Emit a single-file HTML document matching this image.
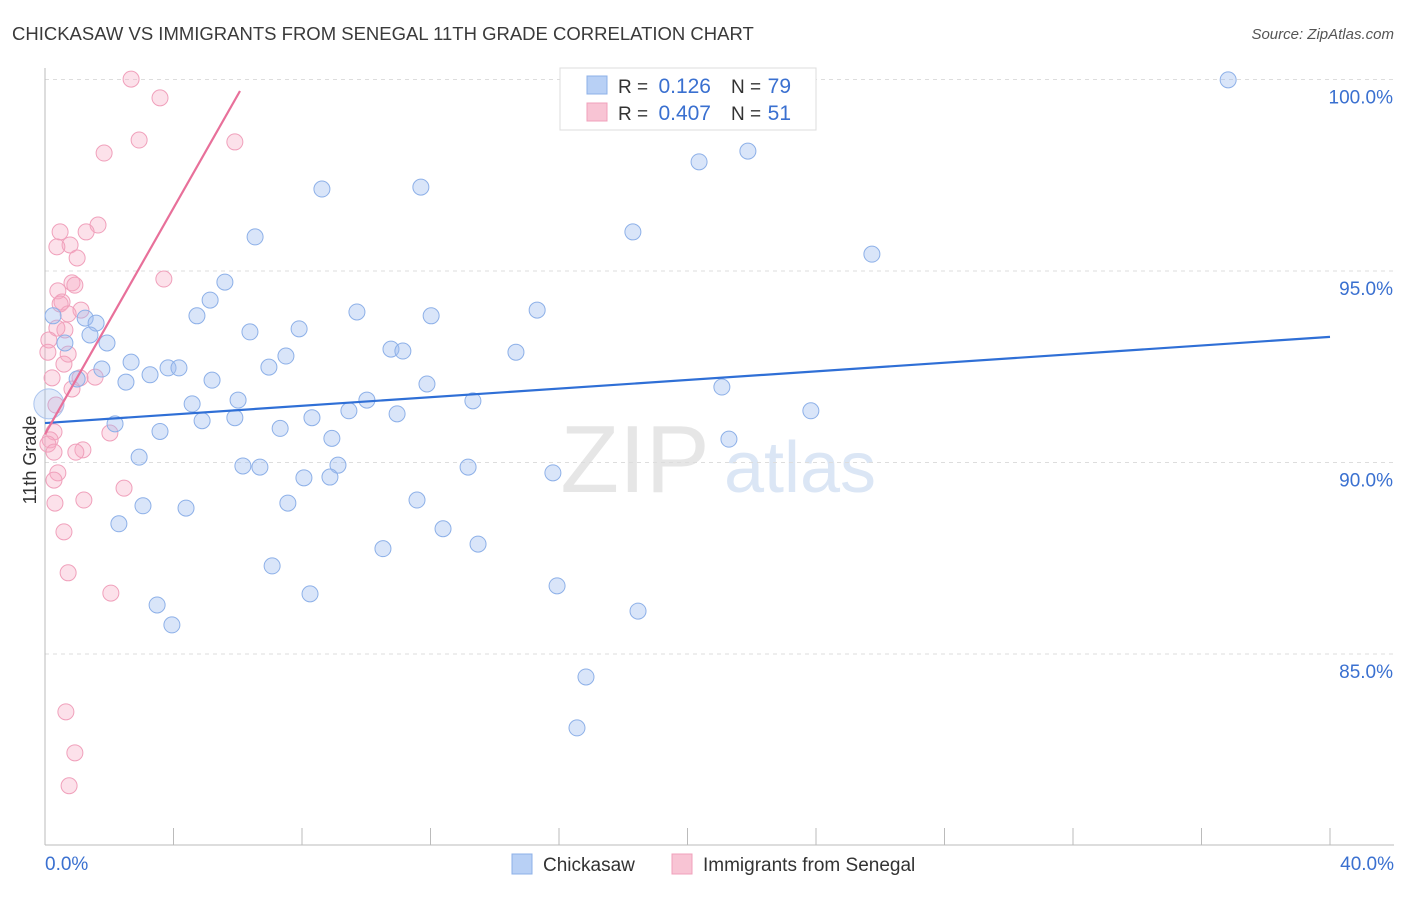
<!DOCTYPE html>
<html><head><meta charset="utf-8"><style>
body{margin:0;background:#fff;font-family:"Liberation Sans",sans-serif;}
svg text{font-family:"Liberation Sans",sans-serif;}
</style></head><body>
<svg id="chart" width="1406" height="892" xmlns="http://www.w3.org/2000/svg">
<text x="12" y="40" font-size="18.5" fill="#3a3a3a">CHICKASAW VS IMMIGRANTS FROM SENEGAL 11TH GRADE CORRELATION CHART</text>
<text x="1394" y="39" font-size="15" fill="#555" text-anchor="end" font-style="italic">Source: ZipAtlas.com</text>
<text x="36" y="460" font-size="18" fill="#333" transform="rotate(-90 36 460)" text-anchor="middle">11th Grade</text>
<g><text x="635" y="492" font-size="96" fill="#e6e6e6" text-anchor="middle" font-family="Liberation Serif">ZIP</text><text x="800" y="492" font-size="72" fill="#dbe6f5" text-anchor="middle">atlas</text></g>
<g id="grid"></g><g id="axes"></g><g id="pts"></g><g id="lines"></g>
<g>
<rect x="560" y="68" width="256" height="62" fill="#fff" stroke="#ddd"/>
<rect x="587" y="76" width="20" height="18" fill="#b8d0f5" stroke="#8db0e8"/>
<rect x="587" y="103" width="20" height="18" fill="#f8c4d4" stroke="#f0a0bb"/>
<text x="618" y="93" font-size="19" fill="#333">R =</text>
<text x="711" y="93" font-size="21" fill="#3a70d0" text-anchor="end">0.126</text>
<text x="731" y="93" font-size="19" fill="#333">N =</text>
<text x="791" y="93" font-size="21" fill="#3a70d0" text-anchor="end">79</text>
<text x="618" y="120" font-size="19" fill="#333">R =</text>
<text x="711" y="120" font-size="21" fill="#3a70d0" text-anchor="end">0.407</text>
<text x="731" y="120" font-size="19" fill="#333">N =</text>
<text x="791" y="120" font-size="21" fill="#3a70d0" text-anchor="end">51</text>
</g>
<g>
<rect x="512" y="854" width="20" height="20" fill="#b8d0f5" stroke="#8db0e8"/>
<text x="543" y="871" font-size="19" fill="#333">Chickasaw</text>
<rect x="672" y="854" width="20" height="20" fill="#f8c4d4" stroke="#f0a0bb"/>
<text x="703" y="871" font-size="19" fill="#333">Immigrants from Senegal</text>
</g>
</svg>
<script>
const yTicks=[100,95,90,85];
const yTickLabels=["100.0%","95.0%","90.0%","85.0%"];
const xTicks=[0,4,8,12,16,20,24,28,32,36,40];
const xEndLabels=["0.0%","40.0%"];
const blueX=[36.83,21.88,20.36,8.62,11.70,18.30,6.54,25.74,5.60,5.14,4.73,0.25,9.71,12.02,15.32,1.25,1.59,6.38,7.91,1.40,0.62,1.93,10.77,11.14,14.66,7.50,2.68,1.77,3.83,4.17,6.97,3.27,1.00,2.52,5.20,11.89,21.07,6.01,10.02,4.58,13.32,0.12,9.46,10.96,8.31,5.91,4.89,23.84,2.18,7.32,3.58,8.93,21.29,2.93,6.16,6.69,9.12,13.17,15.81,8.06,8.87,7.56,11.58,3.05,4.39,2.30,12.39,10.52,13.48,7.07,15.94,8.25,3.49,18.46,3.95,16.84,16.56];
const blueY=[99.99,98.13,97.85,97.14,97.19,96.02,95.89,95.44,94.71,94.24,93.83,93.83,93.93,93.83,93.98,93.77,93.64,93.41,93.49,93.33,93.12,93.12,92.96,92.91,92.88,92.78,92.62,92.44,92.47,92.47,92.49,92.29,92.18,92.10,92.15,92.05,91.97,91.63,91.63,91.53,91.61,91.53,91.35,91.27,91.17,91.17,91.09,91.35,91.01,90.89,90.81,90.63,90.61,90.14,89.91,89.88,89.93,89.88,89.73,89.60,89.62,88.94,89.02,88.87,88.81,88.40,88.27,87.75,87.87,87.30,86.78,86.57,86.28,86.12,85.76,84.40,83.07];
const pinkX=[2.68,3.58,2.93,5.91,1.84,1.65,1.28,0.47,0.78,0.37,1.00,3.70,0.84,0.93,0.40,0.53,0.47,1.12,0.72,0.62,0.37,0.12,0.09,0.72,0.59,0.22,1.09,1.56,0.84,0.34,0.28,2.02,0.16,0.09,1.18,0.96,0.28,0.40,0.28,2.46,1.21,0.31,0.59,0.72,2.05,0.65,0.93,0.75];
const pinkY=[100.01,99.52,98.42,98.37,98.08,96.20,96.02,96.02,95.68,95.63,95.34,94.79,94.69,94.63,94.48,94.19,94.14,93.98,93.88,93.46,93.51,93.20,92.88,92.83,92.57,92.21,92.21,92.23,91.92,91.50,90.80,90.77,90.59,90.48,90.33,90.27,90.27,89.73,89.54,89.33,89.02,88.94,88.19,87.12,86.59,83.49,82.42,81.56];
const blueTrend=[0,91.03,40,93.28];
const pinkTrend=[0,90.74,6.07,99.7];
const NS="http://www.w3.org/2000/svg";
const X=v=>45+v*32.125, Y=v=>79.5+(100-v)*38.3;
function mk(p,t,a){const e=document.createElementNS(NS,t);for(const k in a)e.setAttribute(k,a[k]);document.getElementById(p).appendChild(e);return e;}
yTicks.forEach((t,i)=>{
 const l=mk('grid','line',{x1:45,x2:1394,y1:Y(t),y2:Y(t),stroke:'#ddd','stroke-dasharray':'4,4'});
 
 
 const tx=mk('grid','text',{x:1393,y:Y(t)+24,'font-size':19,fill:'#3a70d0','text-anchor':'end'});
 tx.textContent=yTickLabels[i];
 
 
});
const ax=mk('axes','line',{x1:45,x2:1394,y1:845,y2:845,stroke:'#bbb'});


const ay=mk('axes','line',{x1:45,x2:45,y1:68,y2:845,stroke:'#bbb'});


xTicks.forEach(t=>{
 const l=mk('axes','line',{x1:X(t),x2:X(t),y1:828,y2:845,stroke:'#bbb'});
 
 
});
const xl0=mk('axes','text',{x:45,y:870,'font-size':19,fill:'#3a70d0'});xl0.textContent=xEndLabels[0];


const xl1=mk('axes','text',{x:1394,y:870,'font-size':19,fill:'#3a70d0','text-anchor':'end'});xl1.textContent=xEndLabels[1];


pinkX.forEach((v,i)=>{
 const c=mk('pts','circle',{cx:X(v),cy:Y(pinkY[i]),r:8,fill:'rgba(245,170,195,0.35)',stroke:'#f0a0bb','stroke-width':1});
 
 
});
blueX.forEach((v,i)=>{
 const big=(i==41);
 const c=mk('pts','circle',{cx:X(v),cy:Y(blueY[i]),r:(big?15:8),fill:(big?'rgba(160,190,240,0.3)':'rgba(160,190,240,0.4)'),stroke:(big?'#aac4ee':'#8db0e8'),'stroke-width':1});
 
 
});
const bl=mk('lines','line',{x1:X(blueTrend[0]),y1:Y(blueTrend[1]),x2:X(blueTrend[2]),y2:Y(blueTrend[3]),stroke:'#2f6fd6','stroke-width':2.2});


const pl=mk('lines','line',{x1:X(pinkTrend[0]),y1:Y(pinkTrend[1]),x2:X(pinkTrend[2]),y2:Y(pinkTrend[3]),stroke:'#e8709a','stroke-width':2.2});


</script>
</body></html>
